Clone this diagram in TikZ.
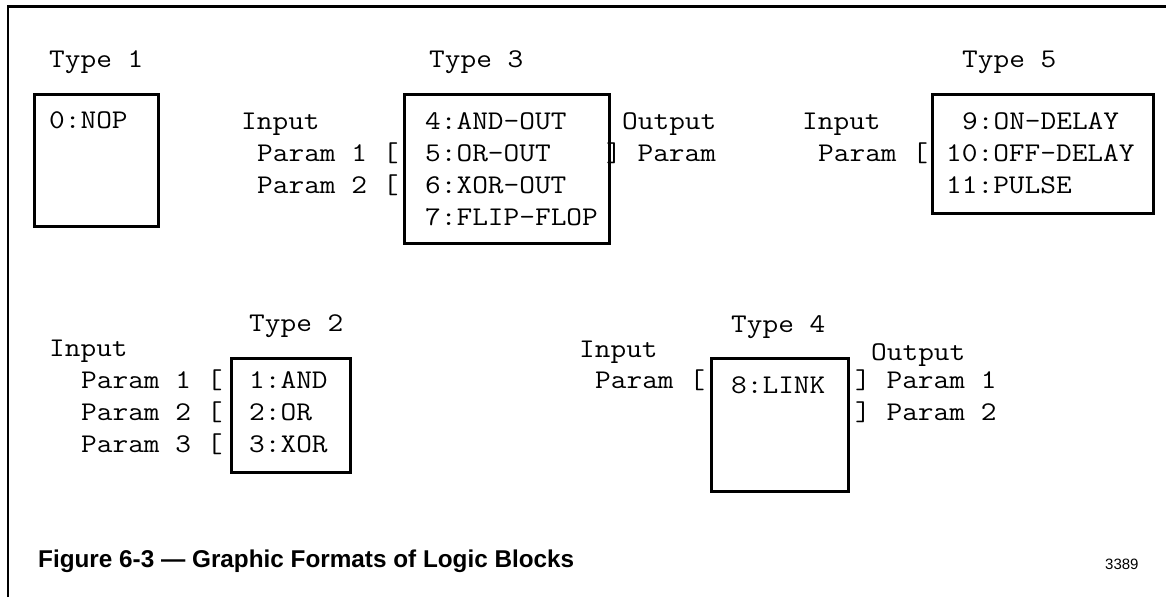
\documentclass[tikz,border=0pt]{standalone}
\usepackage{fontspec}
\setmainfont{Liberation Sans}
\newfontfamily\cour[FakeStretch=1.1287]{Latin Modern Mono}
\begin{document}
\begin{tikzpicture}[x=1pt,y=-1pt,
  mono/.style={font=\cour\fontsize{27}{32}\selectfont, anchor=base west, inner sep=0pt},
  blk/.style={draw, line width=2.5pt, anchor=north west, inner sep=0pt},
  frameline/.style={line width=2.5pt}]
\useasboundingbox (0,0) rectangle (1166,597);
% frame
\draw[frameline] (8,597) -- (8,6.5) -- (1166,6.5);

% Type 1
\node[mono] (t1) at (49,67) {Type 1};
\node[blk, minimum width=124pt, minimum height=132pt] (b1) at (33.25,93.25) {};
\node[mono] (nop) at (49,128) {0:NOP};

% Type 3
\node[mono] (t3) at (429,67) {Type 3};
\node[mono] (in3) at (241,129) {Input};
\node[mono] (p31) at (257,161) {Param 1 [};
\node[mono] (p32) at (257,193) {Param 2 [};
\node[blk, minimum width=205pt, minimum height=149pt] (b3) at (403.25,93.25) {};
\node[mono] (c4) at (425,129) {4:AND-OUT};
\node[mono] (c5) at (425,161) {5:OR-OUT};
\node[mono] (c6) at (425,193) {6:XOR-OUT};
\node[mono] (c7) at (425,225) {7:FLIP-FLOP};
\node[mono] (out3) at (622,129) {Output};
\node[mono] (po3) at (606,161) {] Param};

% Type 5
\node[mono] (t5) at (962,67) {Type 5};
\node[mono] (in5) at (802,129) {Input};
\node[mono] (p5) at (818,161) {Param [};
\node[blk, minimum width=221pt, minimum height=119pt] (b5) at (931.25,93.25) {};
\node[mono] (c9) at (962,129) {9:ON-DELAY};
\node[mono] (c10) at (946,161) {10:OFF-DELAY};
\node[mono] (c11) at (946,193) {11:PULSE};

% Type 2
\node[mono] (t2) at (249,331) {Type 2};
\node[mono] (in2) at (49,356) {Input};
\node[mono] (p21) at (81,388) {Param 1 [};
\node[mono] (p22) at (81,420) {Param 2 [};
\node[mono] (p23) at (81,452) {Param 3 [};
\node[blk, minimum width=119pt, minimum height=114pt] (b2) at (230.25,357.25) {};
\node[mono] (c1) at (249,388) {1:AND};
\node[mono] (c2) at (249,420) {2:OR};
\node[mono] (c3) at (249,452) {3:XOR};

% Type 4
\node[mono] (t4) at (731,332) {Type 4};
\node[mono] (in4) at (579,357) {Input};
\node[mono] (p4) at (595,388) {Param [};
\node[blk, minimum width=137pt, minimum height=133pt] (b4) at (710.25,357.25) {};
\node[mono] (c8) at (731,393) {8:LINK};
\node[mono] (out4) at (871,360) {Output};
\node[mono] (po41) at (855,388) {] Param 1};
\node[mono] (po42) at (855,420) {] Param 2};

% caption
\node[font=\bfseries\fontsize{24.3}{28}\selectfont, anchor=base west, inner sep=0pt] (cap) at (38,567) {Figure 6-3 — Graphic Formats of Logic Blocks};
\node[font=\fontsize{15}{18}\selectfont, anchor=base west, inner sep=0pt] (num) at (1105,569) {3389};
\end{tikzpicture}
\end{document}
